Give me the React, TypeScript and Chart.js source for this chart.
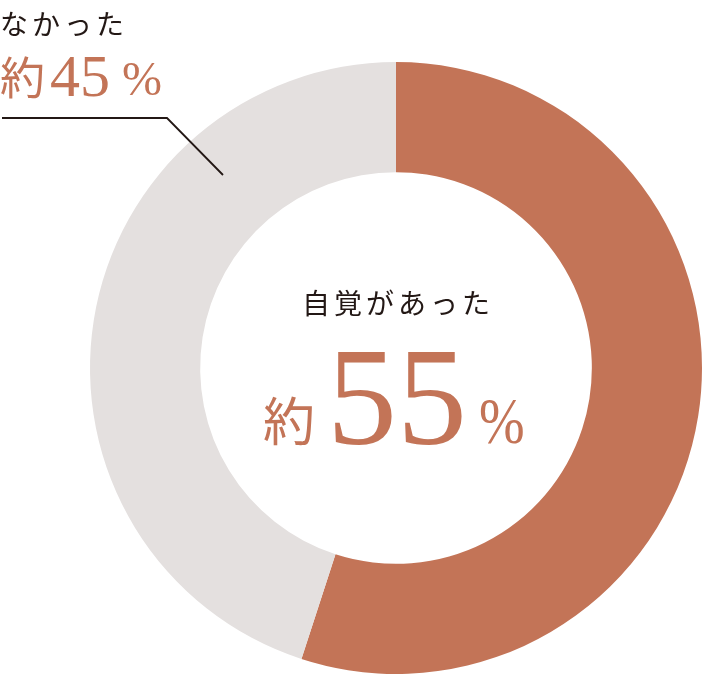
import { useEffect, useRef } from 'react'
import { Chart, registerables } from 'chart.js'

Chart.register(...registerables)

const labels = ['自覚があった', 'なかった']
const values = [55, 45]
const colors = ['#C37457', '#E4E0DF']

const JP = '"Noto Sans CJK JP", sans-serif'
const NUM = '"Liberation Serif", "Times New Roman", serif'
const BROWN = '#C37457'
const INK = '#231815'

// leader line from the "なかった" label to the grey slice
const leaderLine = {
  id: 'leaderLine',
  afterDraw(chart: Chart) {
    const ctx = chart.ctx
    ctx.save()
    ctx.strokeStyle = INK
    ctx.lineWidth = 1.8
    ctx.beginPath()
    ctx.moveTo(2, 118)
    ctx.lineTo(167, 118)
    ctx.lineTo(223, 175)
    ctx.stroke()
    ctx.restore()
  }
}

const abs = (left: number, top: number, size: number, family: string, color: string, extra: any = {}) => ({
  position: 'absolute' as const,
  left,
  top,
  fontSize: size,
  fontFamily: family,
  color,
  lineHeight: 1,
  whiteSpace: 'nowrap' as const,
  ...extra
})

export default function App() {
  const chartRef = useRef<HTMLCanvasElement>(null)
  const chartInstance = useRef<Chart | null>(null)

  useEffect(() => {
    if (!chartRef.current) return
    if (chartInstance.current) chartInstance.current.destroy()

    chartInstance.current = new Chart(chartRef.current, {
      type: 'doughnut',
      data: {
        labels,
        datasets: [
          {
            data: values,
            backgroundColor: colors,
            borderWidth: 0
          }
        ]
      },
      options: {
        responsive: false,
        animation: false,
        cutout: '64%',
        layout: { padding: { left: 90, right: 0, top: 62, bottom: 2 } },
        plugins: {
          legend: { display: false },
          tooltip: { enabled: false }
        }
      },
      plugins: [leaderLine]
    })

    return () => {
      if (chartInstance.current) {
        chartInstance.current.destroy()
        chartInstance.current = null
      }
    }
  }, [])

  return (
    <div style={{ position: 'absolute', left: 0, top: 0, width: 702, height: 676, background: '#fff' }}>
      <canvas ref={chartRef} width={702} height={676} style={{ position: 'absolute', left: 0, top: 0 }}></canvas>

      {/* outside label */}
      <span style={abs(0, 9, 28, JP, INK, { letterSpacing: 4 })}>{labels[1]}</span>
      <span style={abs(0, 53, 45, JP, BROWN)}>約</span>
      <span style={abs(50, 46, 60, NUM, BROWN)}>{values[1]}</span>
      <span style={abs(122, 55, 48, NUM, BROWN)}>%</span>

      {/* centre label */}
      <span style={abs(302, 288, 28, JP, INK, { letterSpacing: 4 })}>{labels[0]}</span>
      <span style={abs(263, 393, 52, JP, BROWN)}>約</span>
      <span style={abs(327, 327, 140, NUM, BROWN)}>{values[0]}</span>
      <span style={abs(479, 388, 66, NUM, BROWN, { transform: 'scaleX(0.83)', transformOrigin: 'left top' })}>%</span>
    </div>
  )
}
